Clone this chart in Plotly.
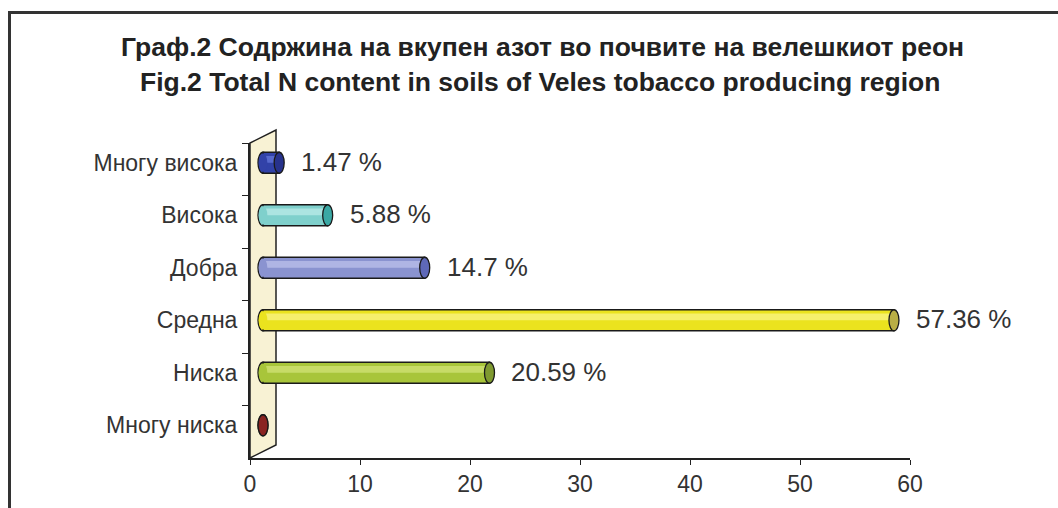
import plotly.graph_objects as go

# ---------------- data ----------------
categories = ["Многу висока", "Висока", "Добра", "Средна", "Ниска", "Многу ниска"]
values = [1.47, 5.88, 14.7, 57.36, 20.59, 0.0]
value_labels = ["1.47 %", "5.88 %", "14.7 %", "57.36 %", "20.59 %", ""]
x_ticks = [0, 10, 20, 30, 40, 50, 60]
body_colors = ["#3242a8", "#7fd0cc", "#8a93d0", "#ebe31e", "#a8c53a", "#a3302c"]
light_colors = ["#5f70d4", "#b4e8e4", "#b6bce8", "#f8f27a", "#cde070", "#c45450"]
cap_colors = ["#27328c", "#3aa8a4", "#5e68b8", "#b9ae45", "#7f9a30", "#8a2422"]
title_line1 = "Граф.2 Содржина на вкупен азот во почвите на велешкиот реон"
title_line2 = "Fig.2 Total N content in soils of Veles tobacco producing region"

# ---------------- geometry (pixels) ----------------
W, H = 1058, 508
PX0, PX1 = 250, 910      # x-axis 0..60
PY0, PY1 = 143, 458      # category area top / bottom
DX, DY = 26, 13          # 3-D depth offset
XMAX = 60
BAR_W = 0.4
PAD_UNITS = 2            # extra room left of 0 on the bar axis (so rounded ends are not clipped)


def fx(px):
    return px / W


def fy(py):
    return 1 - py / H


px_per_unit = (PX1 - PX0) / XMAX
cap_half = 5 / px_per_unit

fig = go.Figure()

# invisible trace to register categories on the front axis
fig.add_trace(go.Scatter(x=[0] * len(categories), y=categories, mode="markers",
                         marker=dict(opacity=0), hoverinfo="skip", showlegend=False,
                         xaxis="x", yaxis="y"))

# cylinder bodies
fig.add_trace(go.Bar(x=values, y=categories, orientation="h", width=BAR_W,
                     marker=dict(color=body_colors, line=dict(color="#1a1a1a", width=1.3)),
                     xaxis="x2", yaxis="y2", showlegend=False, hoverinfo="skip"))
# highlight band
fig.add_trace(go.Bar(x=values, y=categories, orientation="h", width=0.13, offset=-0.13,
                     marker=dict(color=light_colors, line=dict(width=0)),
                     xaxis="x2", yaxis="y2", showlegend=False, hoverinfo="skip",
                     opacity=0.85))

shapes = []
# side wall (3-D left panel)
shapes.append(dict(type="path", xref="paper", yref="paper", layer="below",
                   path=(f"M {fx(PX0)},{fy(PY1)} L {fx(PX0)},{fy(PY0)} "
                         f"L {fx(PX0 + DX)},{fy(PY0 - DY)} L {fx(PX0 + DX)},{fy(PY1 - DY)} Z"),
                   fillcolor="#f8f2d4", line=dict(color="#222", width=1.5)))

for i, v in enumerate(values):
    # left rounded end (outline part, below)
    shapes.append(dict(type="circle", xref="x2", yref="y2", layer="below",
                       x0=-cap_half, x1=cap_half, y0=i - BAR_W / 2, y1=i + BAR_W / 2,
                       fillcolor=body_colors[i], line=dict(color="#1a1a1a", width=1.3)))
    # filler covering vertical edge of the bar at 0
    if v > 0:
        shapes.append(dict(type="circle", xref="x2", yref="y2", layer="above",
                           x0=-cap_half + 0.06, x1=cap_half - 0.06,
                           y0=i - BAR_W / 2 + 0.025, y1=i + BAR_W / 2 - 0.025,
                           fillcolor=body_colors[i], line=dict(width=0)))
    # end cap
    shapes.append(dict(type="circle", xref="x2", yref="y2", layer="above",
                       x0=v - cap_half, x1=v + cap_half, y0=i - BAR_W / 2, y1=i + BAR_W / 2,
                       fillcolor=cap_colors[i], line=dict(color="#1a1a1a", width=1.3)))

# outer frame (top and left edges visible)
shapes.append(dict(type="line", xref="paper", yref="paper", x0=fx(9.5), x1=1.0,
                   y0=fy(12.5), y1=fy(12.5), line=dict(color="#333", width=3)))
shapes.append(dict(type="line", xref="paper", yref="paper", x0=fx(9.5), x1=fx(9.5),
                   y0=fy(11), y1=0, line=dict(color="#333", width=3)))

annotations = []
for i, (v, lab) in enumerate(zip(values, value_labels)):
    if lab:
        annotations.append(dict(x=v, y=categories[i], xref="x2", yref="y2", text=lab,
                                showarrow=False, xanchor="left", yanchor="middle",
                                xshift=20, yshift=1,
                                font=dict(family="Liberation Sans, Arial", size=26, color="#333")))

annotations.append(dict(x=fx(542), y=fy(47), xref="paper", yref="paper", text=title_line1,
                        showarrow=False, xanchor="center", yanchor="middle",
                        font=dict(family="Liberation Sans, Arial", size=26.5, color="#222", weight="bold")))
annotations.append(dict(x=fx(540), y=fy(82), xref="paper", yref="paper", text=title_line2,
                        showarrow=False, xanchor="center", yanchor="middle",
                        font=dict(family="Liberation Sans, Arial", size=26.5, color="#222", weight="bold")))

tick_font = dict(family="Liberation Sans, Arial", size=23, color="#333")

bar_x0_px = PX0 + DX / 2 - PAD_UNITS * px_per_unit

fig.update_layout(
    width=W, height=H,
    margin=dict(l=0, r=0, t=0, b=0, autoexpand=False),
    paper_bgcolor="white", plot_bgcolor="rgba(0,0,0,0)",
    showlegend=False, barmode="overlay",
    shapes=shapes, annotations=annotations,
    xaxis=dict(domain=[fx(PX0), fx(PX1)], range=[0, XMAX], anchor="y",
               tickvals=x_ticks, ticktext=[str(t) for t in x_ticks],
               ticks="outside", ticklen=5, tickwidth=1.3, tickcolor="#222",
               showline=True, linecolor="#222", linewidth=1.5,
               showgrid=False, zeroline=False, tickfont=tick_font, automargin=False),
    yaxis=dict(domain=[fy(PY1), fy(PY0)], type="category", categoryorder="array",
               categoryarray=categories, range=[len(categories) - 0.5, -0.5], anchor="x",
               tickson="boundaries", ticks="outside", ticklen=6, tickwidth=1.3,
               tickcolor="#222", showline=True, linecolor="#222", linewidth=1.5,
               showgrid=False, zeroline=False, showticklabels=False, automargin=False),
    xaxis2=dict(domain=[fx(bar_x0_px), fx(PX1 + DX / 2)], range=[-PAD_UNITS, XMAX], anchor="y2",
                visible=False, showgrid=False, zeroline=False),
    yaxis2=dict(domain=[fy(PY1 - DY / 2), fy(PY0 - DY / 2)], type="category",
                categoryorder="array", categoryarray=categories,
                range=[len(categories) - 0.5, -0.5], anchor="free", position=fx(PX0),
                showline=False, ticks="outside", ticklen=6, tickcolor="rgba(0,0,0,0)",
                ticklabelstandoff=2, tickfont=tick_font,
                showgrid=False, zeroline=False, automargin=False),
)

fig.write_html("out.html", config={"responsive": False, "displayModeBar": False})
